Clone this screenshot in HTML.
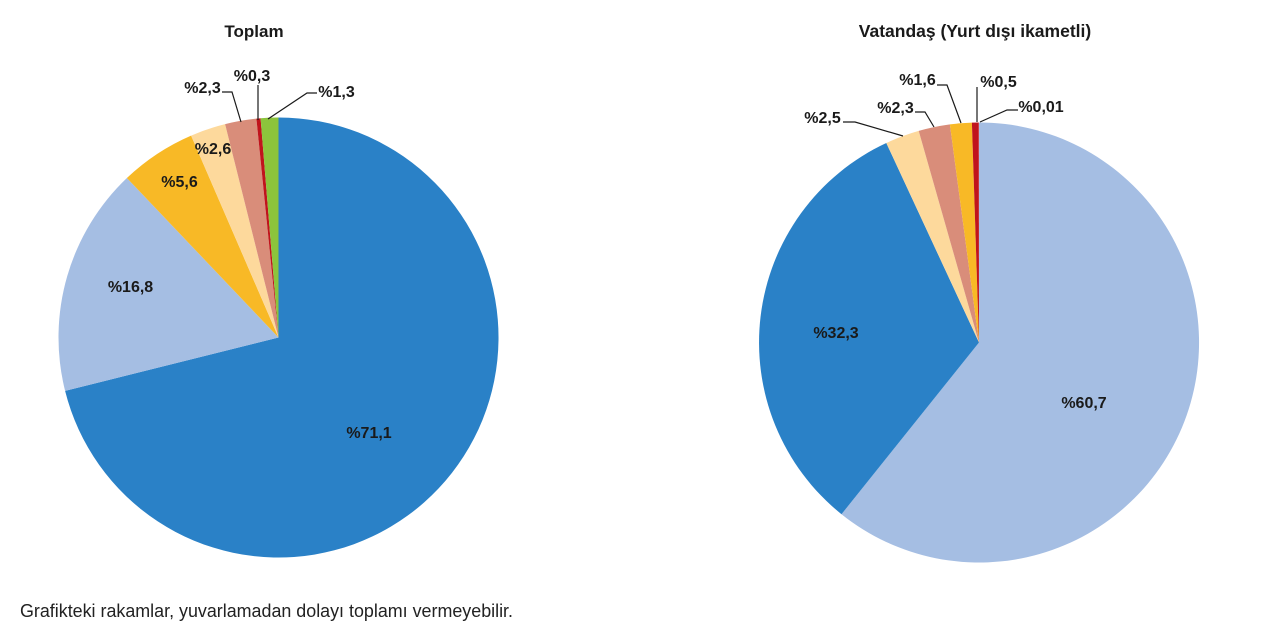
<!DOCTYPE html>
<html>
<head>
<meta charset="utf-8">
<style>
  html, body { margin: 0; padding: 0; background: #ffffff; }
  svg { display: block; }
  text { font-family: "Liberation Sans", Arial, sans-serif; fill: #1a1a1a; }
  .t { font-weight: bold; font-size: 17px; }
  .t2 { font-weight: bold; font-size: 17.5px; }
  .l { font-weight: bold; font-size: 16px; }
  .f { font-size: 18px; fill: #222; }
  .ld { stroke: #1a1a1a; stroke-width: 1.2; fill: none; }
</style>
</head>
<body>
<svg width="1280" height="633" viewBox="0 0 1280 633" xmlns="http://www.w3.org/2000/svg">
  <rect width="1280" height="633" fill="#ffffff"/>

  <!-- Titles -->
  <text class="t" x="254" y="37" text-anchor="middle">Toplam</text>
  <text class="t2" x="975" y="37" text-anchor="middle">Vatandaş (Yurt dışı ikametli)</text>

  <!-- Left pie: center (278.5,337.5) r=220 -->
  <path d="M278.5,337.5 L278.5,117.5 A220,220 0 1 1 65.1,390.9 Z" fill="#2a81c7"/>
  <path d="M278.5,337.5 L65.1,390.9 A220,220 0 0 1 126.9,178.0 Z" fill="#a5bee3"/>
  <path d="M278.5,337.5 L126.9,178.0 A220,220 0 0 1 191.1,135.6 Z" fill="#f8b926"/>
  <path d="M278.5,337.5 L191.1,135.6 A220,220 0 0 1 225.1,124.1 Z" fill="#fdd99c"/>
  <path d="M278.5,337.5 L225.1,124.1 A220,220 0 0 1 256.4,118.6 Z" fill="#d98d7a"/>
  <path d="M278.5,337.5 L256.4,118.6 A220,220 0 0 1 260.6,118.2 Z" fill="#c0141c"/>
  <path d="M278.5,337.5 L260.6,118.2 A220,220 0 0 1 278.5,117.5 Z" fill="#8cc43c"/>

  <!-- Left labels -->
  <text class="l" x="369" y="438" text-anchor="middle">%71,1</text>
  <text class="l" x="130.5" y="292" text-anchor="middle">%16,8</text>
  <text class="l" x="179.5" y="187" text-anchor="middle">%5,6</text>
  <text class="l" x="213" y="154" text-anchor="middle">%2,6</text>
  <text class="l" x="202.5" y="93" text-anchor="middle">%2,3</text>
  <text class="l" x="252" y="81" text-anchor="middle">%0,3</text>
  <text class="l" x="336.5" y="97" text-anchor="middle">%1,3</text>

  <!-- Left leaders -->
  <polyline class="ld" points="222,92 232,92 241,122"/>
  <polyline class="ld" points="258,85 258,120"/>
  <polyline class="ld" points="317,93 307,93 268,119"/>

  <!-- Right pie: center (979,342.5) r=220 -->
  <path d="M979,342.5 L979,122.5 A220,220 0 1 1 841.5,514.2 Z" fill="#a5bee3"/>
  <path d="M979,342.5 L841.5,514.2 A220,220 0 0 1 886.3,143.0 Z" fill="#2a81c7"/>
  <path d="M979,342.5 L886.3,143.0 A220,220 0 0 1 918.7,130.9 Z" fill="#fdd99c"/>
  <path d="M979,342.5 L918.7,130.9 A220,220 0 0 1 949.9,124.4 Z" fill="#d98d7a"/>
  <path d="M979,342.5 L949.9,124.4 A220,220 0 0 1 971.9,122.6 Z" fill="#f8b926"/>
  <path d="M979,342.5 L971.9,122.6 A220,220 0 0 1 978.8,122.5 Z" fill="#c0141c"/>

  <!-- Right labels -->
  <text class="l" x="836" y="338" text-anchor="middle">%32,3</text>
  <text class="l" x="1084" y="408" text-anchor="middle">%60,7</text>
  <text class="l" x="822.5" y="123" text-anchor="middle">%2,5</text>
  <text class="l" x="895.5" y="113" text-anchor="middle">%2,3</text>
  <text class="l" x="917.5" y="85" text-anchor="middle">%1,6</text>
  <text class="l" x="998.5" y="87" text-anchor="middle">%0,5</text>
  <text class="l" x="1041" y="112" text-anchor="middle">%0,01</text>

  <!-- Right leaders -->
  <polyline class="ld" points="843,122 855,122 903,136"/>
  <polyline class="ld" points="915,112 925,112 934,127"/>
  <polyline class="ld" points="937,85 947,85 961,123"/>
  <polyline class="ld" points="977,87 977,122"/>
  <polyline class="ld" points="1018,110 1007,110 980,122"/>

  <!-- Footer -->
  <text class="f" x="20" y="617" textLength="493" lengthAdjust="spacingAndGlyphs">Grafikteki rakamlar, yuvarlamadan dolayı toplamı vermeyebilir.</text>
</svg>
</body>
</html>
